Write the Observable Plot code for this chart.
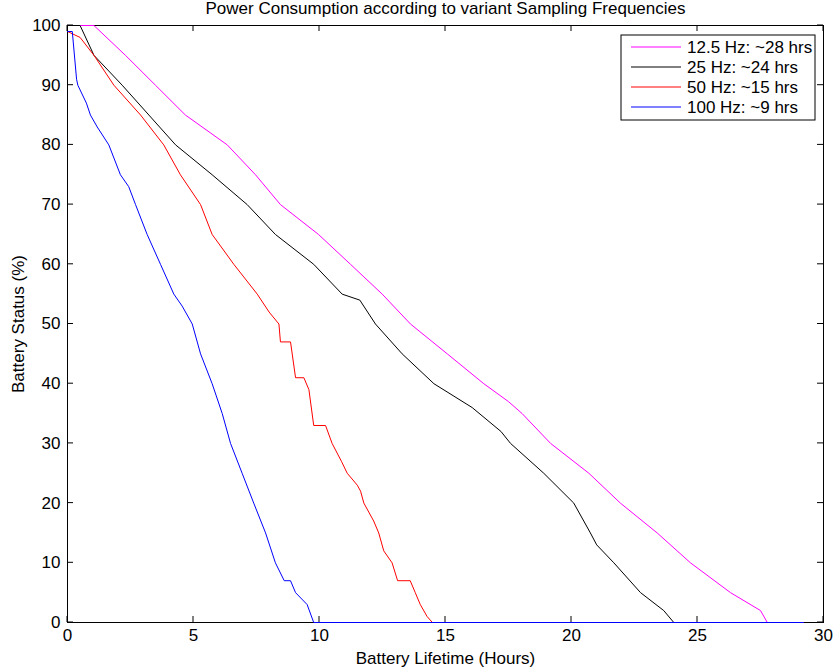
<!DOCTYPE html>
<html><head><meta charset="utf-8">
<script src="https://cdn.jsdelivr.net/npm/d3@7"></script>
<script src="https://cdn.jsdelivr.net/npm/@observablehq/plot@0.6"></script>
<style>
body{margin:0;background:#fff}
#chart{position:relative;width:837px;height:672px}
</style>
</head><body><div id="chart"></div>
<script>
const seriesNames = ["12.5 Hz: ~28 hrs", "25 Hz: ~24 hrs", "50 Hz: ~15 hrs", "100 Hz: ~9 hrs"];
const seriesColors = ["#ff00ff", "#000000", "#ff0000", "#0000ff"];

const hours125 = [0, 1.05, 2.3, 3.49, 4.68, 6.34, 7.46, 8.45, 9.96, 11.23, 12.49, 13.61, 15.07, 16.52, 17.5, 18.04, 19.17, 20.69, 21.94, 23.4, 24.72, 26.31, 27.5, 27.77, 29.2];
const pct125   = [100, 100, 95, 90, 85, 80, 75, 70, 65, 60, 55, 50, 45, 40, 37, 35, 30, 25, 20, 15, 10, 5, 2, 0, 0];

const hours25 = [0, 0.5, 1.05, 2.17, 3.23, 4.29, 5.74, 7.13, 8.25, 9.77, 10.9, 11.6, 12.22, 13.28, 14.54, 15.3, 16.06, 17.2, 17.58, 18.9, 20.09, 20.75, 21.0, 21.68, 22.74, 23.66, 24.06, 29.2];
const pct25   = [100, 100, 95, 90, 85, 80, 75, 70, 65, 60, 55, 54, 50, 45, 40, 38, 36, 32, 30, 25, 20, 15, 13, 10, 5, 2, 0, 0];

const hours50 = [0, 0.5, 1.05, 1.84, 2.9, 3.82, 4.48, 5.28, 5.74, 6.6, 7.53, 8.0, 8.39, 8.45, 8.85, 9.05, 9.38, 9.58, 9.77, 10.24, 10.5, 10.87, 11.1, 11.5, 11.63, 11.76, 12.15, 12.35, 12.55, 12.88, 13.1, 13.6, 13.8, 14.0, 14.27, 14.48, 29.2];
const pct50   = [99, 98, 95, 90, 85, 80, 75, 70, 65, 60, 55, 52, 50, 47, 47, 41, 41, 39, 33, 33, 30, 27, 25, 23, 22, 20, 17, 15, 12, 10, 7, 7, 5, 3, 1, 0, 0];

const hours100 = [0, 0.19, 0.36, 0.41, 0.75, 0.91, 1.18, 1.64, 2.1, 2.43, 2.7, 3.16, 3.69, 4.22, 4.55, 4.95, 5.28, 5.74, 6.14, 6.47, 6.93, 7.39, 7.86, 8.25, 8.6, 8.85, 9.05, 9.51, 9.77, 29.2];
const pct100   = [99, 99, 91, 90, 87, 85, 83, 80, 75, 73, 70, 65, 60, 55, 53, 50, 45, 40, 35, 30, 25, 20, 15, 10, 7, 7, 5, 3, 0, 0];

const xTicks = [0, 5, 10, 15, 20, 25, 30];
const yTicks = [0, 10, 20, 30, 40, 50, 60, 70, 80, 90, 100];
const titleText = "Power Consumption according to variant Sampling Frequencies";
const xLabelText = "Battery Lifetime (Hours)";
const yLabelText = "Battery Status (%)";

const hoursAll = [hours125, hours25, hours50, hours100];
const pctAll = [pct125, pct25, pct50, pct100];
const rows = [];
seriesNames.forEach((name, i) => {
  hoursAll[i].forEach((h, j) => rows.push({series: name, hours: h, pct: pctAll[i][j]}));
});

const font = "'Liberation Sans', Arial, Helvetica, sans-serif";
const fs = 17;

const plot = Plot.plot({
  width: 837, height: 672,
  marginLeft: 67, marginRight: 14, marginTop: 25, marginBottom: 50,
  style: {fontFamily: font, fontSize: fs + "px", background: "white", color: "black"},
  x: {domain: [0, 30]},
  y: {domain: [0, 100]},
  color: {domain: seriesNames, range: seriesColors},
  marks: [
    Plot.frame({stroke: "black", strokeWidth: 1}),
    Plot.line(rows, {x: "hours", y: "pct", z: "series", stroke: "series", strokeWidth: 1}),
    Plot.axisX({ticks: xTicks, tickSize: 0, tickPadding: 6, label: null, fontSize: fs}),
    Plot.axisY({ticks: yTicks, tickSize: 0, tickPadding: 7, label: null, fontSize: fs}),
    Plot.text([titleText], {text: d => d, frameAnchor: "top", lineAnchor: "middle", textAnchor: "middle", dy: -17, fontSize: fs}),
    Plot.text([xLabelText], {text: d => d, frameAnchor: "bottom", lineAnchor: "middle", textAnchor: "middle", dy: 36, fontSize: fs}),
    Plot.text([yLabelText], {text: d => d, frameAnchor: "left", lineAnchor: "middle", textAnchor: "middle", dx: -49, rotate: -90, fontSize: fs})
  ]
});

const svg = d3.select(plot);
const sx = plot.scale("x"), sy = plot.scale("y");
const x0 = sx.apply(0), x1 = sx.apply(30), y0 = sy.apply(0), y1 = sy.apply(100);
const tl = 6;

// inward ticks on all four sides (MATLAB box style)
const tg = svg.append("g").attr("stroke", "black").attr("stroke-width", 1);
xTicks.forEach(t => {
  const px = sx.apply(t);
  tg.append("line").attr("x1", px).attr("x2", px).attr("y1", y0).attr("y2", y0 - tl);
  tg.append("line").attr("x1", px).attr("x2", px).attr("y1", y1).attr("y2", y1 + tl);
});
yTicks.forEach(t => {
  const py = sy.apply(t);
  tg.append("line").attr("y1", py).attr("y2", py).attr("x1", x0).attr("x2", x0 + tl);
  tg.append("line").attr("y1", py).attr("y2", py).attr("x1", x1).attr("x2", x1 - tl);
});

// legend inside the plot box (top-right)
const lg = svg.append("g").attr("font-family", font).attr("font-size", fs).attr("text-anchor", "start");
lg.append("rect").attr("x", 621).attr("y", 35).attr("width", 194).attr("height", 85)
  .attr("fill", "white").attr("stroke", "black").attr("stroke-width", 1);
seriesNames.forEach((name, i) => {
  const yy = 47 + i * 20;
  lg.append("line").attr("x1", 631).attr("x2", 681).attr("y1", yy).attr("y2", yy)
    .attr("stroke", seriesColors[i]).attr("stroke-width", 1);
  lg.append("text").attr("x", 687).attr("y", yy).attr("dy", "0.35em").attr("fill", "black")
    .attr("text-anchor", "start").text(name);
});

document.getElementById("chart").appendChild(plot);
</script>
</body></html>
